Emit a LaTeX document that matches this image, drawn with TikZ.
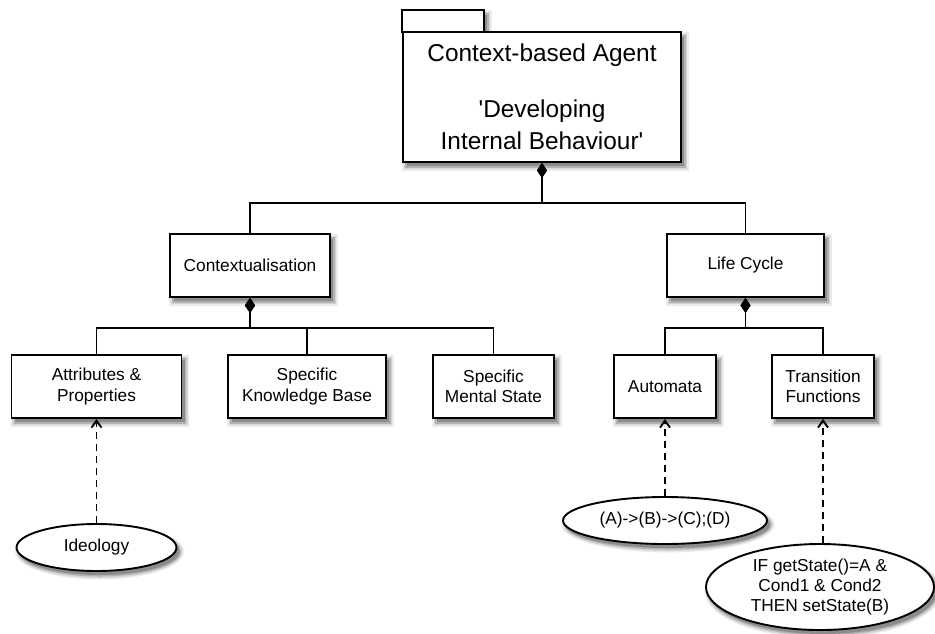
\documentclass[tikz,border=0pt]{standalone}
\usetikzlibrary{arrows.meta,shapes.geometric}
\font\bigfont="Liberation Sans" at 24.4pt
\font\smallfont="Liberation Sans" at 17.3pt
\newcommand\smallstyle{\smallfont\baselineskip=20.5pt\relax}
\newcommand\ovalstyle{\smallfont\baselineskip=20pt\relax}
\newcommand\bigstyle{\bigfont\baselineskip=32pt\relax}
% blurred shadow of a box: left, top, right, bottom
\newcommand\rshadow[4]{%
  \fill[shadowA] (#1-1,#2) rectangle (#3+7.5,#4+8.5);
  \fill[shadowB] (#1+0.5,#2+1.5) rectangle (#3+6,#4+7);
  \fill[shadowC] (#1+2,#2+3) rectangle (#3+4.5,#4+5.5);
  \fill[shadowD] (#1+3.5,#2+4.5) rectangle (#3+3,#4+4);}
% blurred shadow of an ellipse: centre x, centre y, x radius, y radius
\newcommand\eshadow[4]{%
  \fill[shadowA] (#1+3,#2+4) ellipse [x radius=#3+4.5, y radius=#4+4.5];
  \fill[shadowB] (#1+3,#2+4) ellipse [x radius=#3+3, y radius=#4+3];
  \fill[shadowC] (#1+3,#2+4) ellipse [x radius=#3+1.5, y radius=#4+1.5];
  \fill[shadowD] (#1+3,#2+4) ellipse [x radius=#3, y radius=#4];}
\tikzset{
  shadowA/.style={fill=black!8},
  shadowB/.style={fill=black!17},
  shadowC/.style={fill=black!30},
  shadowD/.style={fill=black!45},
  box/.style={draw=black,line width=1.9pt,fill=white,rectangle,inner sep=0pt,align=center,
    minimum height=63pt,font={\smallstyle}},
  oval/.style={draw=black,line width=1.9pt,fill=white,ellipse,inner sep=0pt,align=center,
    font={\ovalstyle}},
  comp/.style={line width=1.9pt,{Diamond[length=15pt,width=10pt]}-},
  dep/.style={line width=1.9pt,dash pattern=on 7pt off 5pt,-{Straight Barb[length=7pt,width=10pt]}},
}
\begin{document}
\begin{tikzpicture}[x=1pt,y=-1pt]
\useasboundingbox (0,0) rectangle (935,633);
% shadows (drawn first, behind the white shapes)
\rshadow{402}{10}{484}{32}
\rshadow{403}{32}{681}{162}
\rshadow{170}{234}{330}{297}
\rshadow{667}{234}{824}{297}
\rshadow{11.5}{355}{181.5}{418}
\rshadow{228}{355}{386}{418}
\rshadow{433}{355}{554}{418}
\rshadow{614}{355}{716}{418}
\rshadow{772}{355}{874}{418}
\eshadow{96.5}{547.5}{80}{23.5}
\eshadow{665}{520.5}{102}{23.5}
\eshadow{820}{587}{114}{43}
% package
\node[box,minimum width=82pt,minimum height=22pt] (tab) at (443,21) {};
\node[box,minimum width=278pt,minimum height=130pt,font={\bigstyle}] (agent) at (542,97)
  {Context-based Agent\\[24pt]'Developing\\Internal Behaviour'};
% level 1
\node[box,minimum width=160pt] (ctx) at (250,265.5) {Contextualisation};
\node[box,minimum width=157pt] (life) at (745.5,265.5) {Life Cycle};
% level 2
\node[box,minimum width=170pt] (attr) at (96.5,386.5) {Attributes \&\\Properties};
\node[box,minimum width=158pt] (skb) at (307,386.5) {Specific\\Knowledge Base};
\node[box,minimum width=121pt] (sms) at (493.5,386.5) {Specific\\Mental State};
\node[box,minimum width=102pt] (auto) at (665,386.5) {Automata};
\node[box,minimum width=102pt] (trans) at (823,386.5) {Transition\\Functions};
% ellipses
\node[oval,minimum width=160pt,minimum height=47pt] (ideo) at (96.5,547.5) {Ideology};
\node[oval,minimum width=204pt,minimum height=47pt] (seq) at (665,520.5) {(A)->(B)->(C);(D)};
\node[oval,minimum width=228pt,minimum height=86pt] (rule) at (820,587)
  {IF getState()=A \&\\Cond1 \& Cond2\\THEN setState(B)};
% composition connectors
\draw[comp] (agent.south) -- ++(0,40) -| (ctx.north);
\draw[comp] (agent.south) -- ++(0,40) -| (life.north);
\draw[comp] (ctx.south) -- ++(0,30) -| (attr.north);
\draw[comp] (ctx.south) -- ++(0,30) -| (skb.north);
\draw[comp] (ctx.south) -- ++(0,30) -| (sms.north);
\draw[comp] (life.south) -- ++(0,30) -| (auto.north);
\draw[comp] (life.south) -- ++(0,30) -| (trans.north);
% dependencies
\draw[dep] (ideo.north) -- (attr.south);
\draw[dep] (seq.north) -- (auto.south);
\draw[dep] (trans.south |- rule.north) -- (trans.south);
\end{tikzpicture}
\end{document}
